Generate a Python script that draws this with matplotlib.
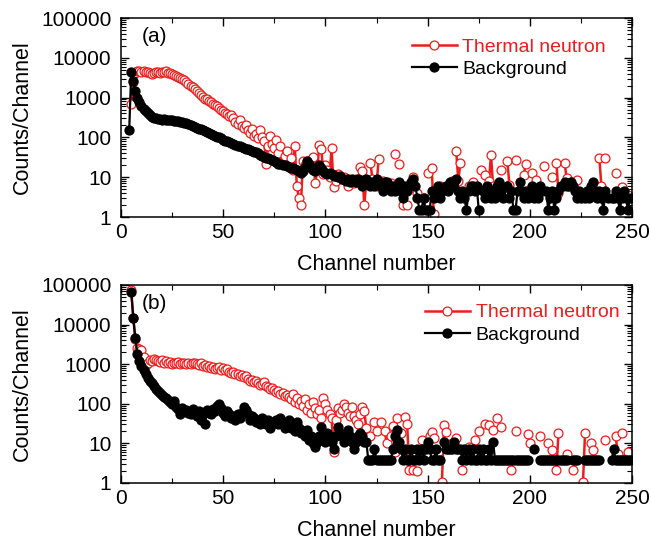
#!/usr/bin/env python3
"""Two-panel log spectrum: thermal neutron vs background counts per channel."""

import matplotlib

matplotlib.use("Agg")
import matplotlib.pyplot as plt
import numpy as np
from matplotlib.ticker import FuncFormatter, LogLocator, MultipleLocator, NullFormatter

plt.rcParams["font.family"] = ["Liberation Sans", "DejaVu Sans"]

RED = "#ee1c1c"

# ---- panel (a) ----------------------------------------------------------
A_BG_START = 4
A_BG = [
    150, 4500, 2600, 1500, 1000, 760, 620, 520, 450, 400,           # 4
    360, 330, 310, 300, 290, 285, 280, 290, 275, 280,               # 14
    270, 275, 265, 260, 255, 250, 240, 235, 225, 215,               # 24
    205, 195, 185, 175, 165, 160, 150, 145, 135, 130,               # 34
    120, 115, 110, 105, 100, 95, 88, 82, 80, 75,                    # 44
    72, 70, 66, 62, 60, 58, 55, 52, 50, 48,                         # 54
    46, 44, 42, 40, 36, 34, 33, 31, 30, 28,                         # 64
    27, 26, 24, 22, 21, 20, 20, 19, 18, 17,                         # 74
    17, 16, 15, 14, 13, 14, 18, 26, 22, 18,                         # 84
    15, 14, 16, 20, 17, 14, 13, 12, 13, 12,                         # 94
    11, 10.5, 10, 10.5, 9, 9, 8, 9, 7.5, 9,                         # 104
    8, 7.5, 9, 7.5, 6, 7.5, 9, 7.5, 6, 7.5,                         # 114
    6, 9, 7.5, 6, 4.5, 7.5, 7.5, 6, 4.5, 6,                         # 124
    4.5, 6, 7.5, 4.5, 3, 6, 4.5, 6, 7.5, 9,                         # 134
    6, 3, 1.5, 1.5, 3, 1.5, 1.5, 1.5, 4.5, 3,                       # 144
    4.5, 6, 3, 4.5, 0, 6, 4.5, 7.5, 6, 7.5,                         # 154
    9, 4.5, 3, 4.5, 3, 1.5, 4.5, 6, 6, 4.5,                         # 164
    6, 1.5, 0, 4.5, 3, 6, 4.5, 3, 4.5, 3,                           # 174
    6, 7.5, 4.5, 3, 0, 6, 3, 4.5, 1.5, 1.5,                         # 184
    4.5, 7.5, 4.5, 3, 4.5, 3, 4.5, 6, 3, 4.5,                       # 194
    3, 6, 4.5, 0, 4.5, 1.5, 3, 4.5, 1.5, 3,                         # 204
    4.5, 6, 6, 7.5, 6, 6, 7.5, 6, 4.5, 3,                           # 214
    4.5, 3, 0, 3, 4.5, 3, 6, 7.5, 4.5, 3,                           # 224
    4.5, 3, 1.5, 4.5, 3, 0, 3, 3, 4.5, 3,                           # 234
    1.5, 3, 4.5, 3, 1.5, 3,                                         # 244
]

A_TN_START = 5
A_TN = [
    700, 2500, 4200, 4600, 4800, 4500, 4700, 4400, 4300, 4200,      # 5
    4000, 4100, 4300, 4400, 4200, 4500, 4300, 4600, 4200, 4100,     # 15
    3900, 3700, 3500, 3300, 3100, 2900, 2700, 2500, 2200, 2000,     # 25
    1850, 1650, 1450, 1300, 1150, 1050, 950, 900, 820, 760,         # 35
    700, 650, 620, 560, 480, 450, 420, 380, 340, 360,               # 45
    300, 250, 220, 280, 190, 170, 200, 150, 130, 160,               # 55
    110, 120, 95, 150, 100, 80, 22, 60, 110, 70,                    # 65
    55, 85, 40, 60, 25, 35, 45, 20, 30, 15,                         # 75
    60, 6, 3, 2, 25, 20, 25, 18, 20, 33,                            # 85
    7, 15, 66, 50, 12, 20, 15, 10, 54, 5.8,                         # 95
    8, 12, 0, 9, 10, 0, 6, 8, 0, 7,                                 # 105
    9, 0, 18, 14, 2, 8, 0, 23, 9, 0,                                # 115
    6, 28, 0, 8, 0, 6, 0, 7, 0, 39,                                 # 125
    0, 22, 0, 2, 0, 2, 0, 6, 10, 0,                                 # 135
    4, 0, 0, 3, 0, 12.6, 0, 17, 1.2, 0,                             # 145
    0, 6, 0, 0, 5, 0, 0, 8, 0, 45,                                  # 155
    8, 23, 0, 0, 0, 6, 0, 7.4, 0, 0,                                # 165
    0, 15, 0, 11.5, 0, 8, 37, 6, 0, 0,                              # 175
    0, 15, 0, 0, 25, 6.4, 0, 0, 26.5, 0,                            # 185
    0, 0, 11.5, 21.7, 0, 0, 12.6, 0, 8.5, 0,                        # 195
    0, 0, 18.7, 0, 0, 0, 10, 0, 22.7, 4,                            # 205
    0, 0, 22.7, 9.5, 0, 7.5, 0, 0, 8.6, 0,                          # 215
    0, 0, 0, 0, 0, 0, 0, 0, 0, 30.4,                                # 225
    6, 0, 30.4, 0, 0, 0, 0, 12.6, 0, 0,                             # 235
    5.8, 0, 0, 3.5, 0,                                              # 245
]

# ---- panel (b) ----------------------------------------------------------
B_BG_START = 5
B_BG = [
    65000, 14500, 4500, 1800, 1200, 900, 700, 560, 460, 380,        # 5
    330, 280, 240, 210, 190, 170, 150, 140, 125, 110,               # 15
    100, 120, 85, 75, 55, 80, 65, 70, 60, 55,                       # 25
    75, 60, 50, 65, 40, 55, 30, 70, 60, 55,                         # 35
    75, 65, 90, 100, 80, 60, 50, 65, 55, 45,                        # 45
    50, 40, 55, 45, 60, 85, 70, 55, 40, 50,                         # 55
    45, 35, 40, 30, 45, 35, 30, 40, 25, 30,                         # 65
    35, 40, 30, 45, 35, 25, 30, 40, 25, 30,                         # 75
    20, 35, 25, 18, 20, 15, 22, 12, 15, 10,                         # 85
    8, 11, 15, 26, 15, 11, 18, 15, 11, 7.4,                         # 95
    15, 26, 18, 15, 11, 18, 22, 15, 11, 7.4,                        # 105
    11, 15, 18, 15, 11, 11, 3.7, 3.7, 3.7, 7.4,                     # 115
    3.7, 3.7, 3.7, 3.7, 3.7, 3.7, 3.7, 3.7, 7.4, 15,                # 125
    22, 11, 7.4, 3.7, 7.4, 3.7, 3.7, 7.4, 3.7, 3.7,                 # 135
    7.4, 3.7, 7.4, 3.7, 7.4, 11, 7.4, 3.7, 3.7, 7.4,                # 145
    3.7, 3.7, 0, 11, 7.4, 7.4, 7.4, 7.4, 11, 7.4,                   # 155
    7.4, 7.4, 3.7, 7.4, 3.7, 7.4, 3.7, 7.4, 3.7, 3.7,               # 165
    7.4, 3.7, 7.4, 3.7, 3.7, 7.4, 3.7, 11, 3.7, 3.7,                # 175
    3.7, 3.7, 3.7, 3.7, 3.7, 3.7, 3.7, 3.7, 3.7, 3.7,               # 185
    3.7, 3.7, 3.7, 3.7, 3.7, 0, 0, 7.4, 0, 0,                       # 195
    3.7, 3.7, 3.7, 3.7, 3.7, 3.7, 3.7, 3.7, 3.7, 3.7,               # 205
    3.7, 3.7, 3.7, 3.7, 0, 0, 3.7, 3.7, 3.7, 0,                     # 215
    0, 0, 3.7, 3.7, 3.7, 3.7, 3.7, 3.7, 3.7, 3.7,                   # 225
    0, 0, 0, 0, 0, 3.7, 7.4, 3.7, 3.7, 3.7,                         # 235
    3.7, 3.7, 3.7, 3.7, 3.7,                                        # 245
]

B_TN_START = 5
B_TN = [
    75000, 15000, 4300, 2500,                                       # 5
    2400, 2300, 1500, 950, 1100, 1300, 1200, 1350, 1250, 1200,      # 9
    1150, 1250, 1100, 1200, 1050, 1150, 1000, 1100, 1050, 1150,     # 19
    1000, 1100, 1050, 1000, 1100, 1000, 1050, 1100, 1000, 950,      # 29
    1050, 900, 950, 850, 900, 800, 850, 750, 800, 850,              # 39
    700, 800, 700, 750, 650, 600, 620, 550, 580, 500,               # 49
    520, 470, 500, 420, 380, 400, 350, 380, 330, 300,               # 59
    320, 350, 280, 260, 230, 250, 220, 200, 210, 180,               # 69
    190, 160, 170, 150, 130, 180, 110, 140, 100, 120,               # 79
    90, 130, 70, 100, 60, 110, 80, 55, 70, 45,                      # 89
    137, 100, 70, 55, 45, 6.2, 40, 80, 60, 70,                      # 99
    100, 85, 60, 50, 84, 48, 40, 30, 55, 84,                        # 109
    65, 24, 0, 15, 0, 35, 20, 0, 35, 0,                             # 119
    20, 10, 0, 15, 28, 6, 43, 0, 18, 0,                             # 129
    47, 30, 2.1, 0, 2.1, 0, 2, 0, 12, 0,                            # 139
    8, 0, 15, 19.7, 14, 0, 6, 0, 1.08, 29,                          # 149
    19, 0, 0, 10, 0, 14, 0, 0, 2.1, 0,                              # 159
    0, 8, 0, 0, 12, 0, 20, 0, 0, 31,                                # 169
    0, 29, 0, 22, 0, 43, 0, 26, 0, 0,                               # 179
    0, 0, 2.1, 0, 20, 0, 0, 0, 0, 0,                                # 189
    17, 10, 0, 0, 0, 0, 15, 0, 0, 0,                                # 199
    10, 0, 7, 0, 2.1, 18, 0, 0, 0, 5.5,                             # 209
    0, 0, 2.1, 0, 0, 0, 0, 1.08, 18, 0,                             # 219
    0, 10, 7, 0, 0, 0, 0, 0, 12, 0,                                 # 229
    0, 0, 0, 15, 5.5, 0, 18, 0, 0, 6,                               # 239
    0,                                                              # 249
]


def series(start, vals):
    """Channel axis + counts, zero counts become gaps (as on a log plot)."""
    y = np.array(vals, dtype=float)
    y[y <= 0] = np.nan
    return np.arange(start, start + len(y)), y


def style_axes(ax):
    ax.set_xlim(0, 250)
    ax.set_yscale("log")
    ax.set_ylim(1, 1e5)
    ax.xaxis.set_major_locator(MultipleLocator(50))
    ax.xaxis.set_minor_locator(MultipleLocator(25))
    ax.yaxis.set_major_locator(LogLocator(base=10, numticks=10))
    ax.yaxis.set_minor_locator(LogLocator(base=10, subs=np.arange(2, 10), numticks=10))
    ax.yaxis.set_minor_formatter(NullFormatter())
    ax.yaxis.set_major_formatter(FuncFormatter(lambda v, _: f"{v:g}"))
    ax.tick_params(which="both", direction="in", top=True, right=True,
                   labelsize=15, width=1)
    ax.tick_params(axis="y", which="major", pad=7)
    ax.tick_params(axis="x", which="major", pad=4)
    ax.tick_params(which="major", length=6)
    ax.tick_params(which="minor", length=3.5, width=0.8)
    for sp in ax.spines.values():
        sp.set_linewidth(1.1)
    ax.set_xlabel("Channel number", fontsize=15.5, labelpad=9)
    ax.set_ylabel("Counts/Channel", fontsize=15.5, labelpad=6)


def draw_panel(ax, tag, tn, bg, leg_anchor):
    x, y = series(*tn)
    ax.plot(x, y, "-o", color=RED, lw=1.8, ms=6.4, mfc="white", mec=RED,
            mew=0.9, label="Thermal neutron")
    x, y = series(*bg)
    ax.plot(x, y, "-o", color="black", lw=1.6, ms=6.4, label="Background")
    style_axes(ax)
    ax.text(0.04, 0.905, tag, transform=ax.transAxes, fontsize=15,
            va="center", ha="left")
    leg = ax.legend(loc="upper left", bbox_to_anchor=leg_anchor, frameon=False,
                    fontsize=14, handlelength=2.3, handletextpad=0.3,
                    labelspacing=0.25, borderpad=0, borderaxespad=0)
    for txt, c in zip(leg.get_texts(), [RED, "black"]):
        txt.set_color(c)


fig = plt.figure(figsize=(6.51, 5.40), dpi=100)
ax_a = fig.add_axes([0.1859, 0.5981, 0.785, 0.3685])
ax_b = fig.add_axes([0.1859, 0.1056, 0.785, 0.3667])

draw_panel(ax_a, "(a)", (A_TN_START, A_TN), (A_BG_START, A_BG), (0.569, 0.90))
draw_panel(ax_b, "(b)", (B_TN_START, B_TN), (B_BG_START, B_BG), (0.595, 0.905))

fig.savefig("out.png", dpi=100)
